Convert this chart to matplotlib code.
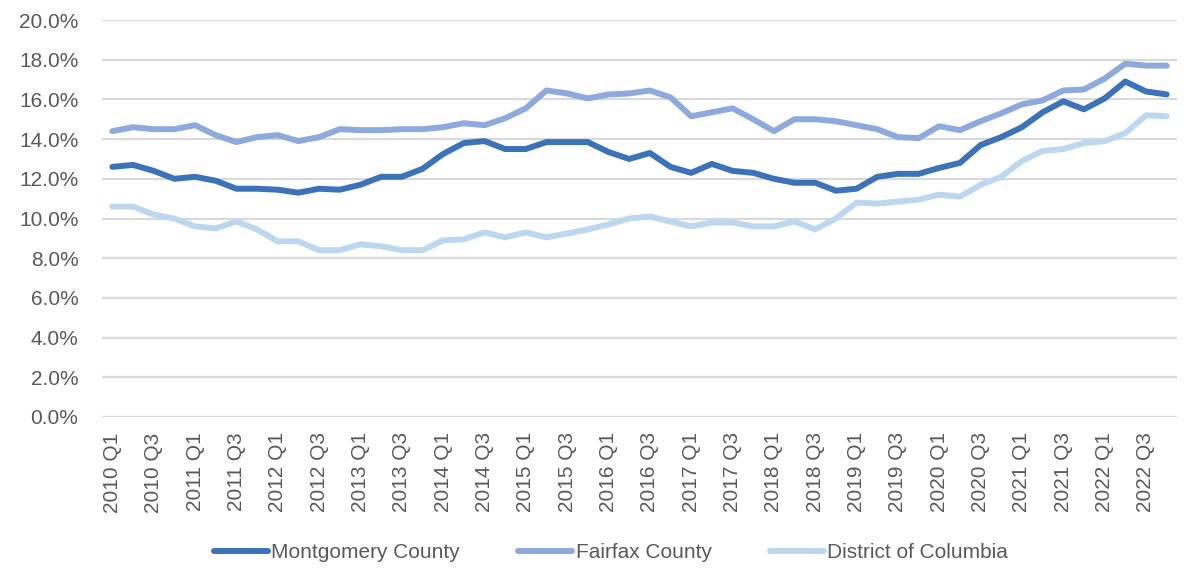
import matplotlib.pyplot as plt
from matplotlib.ticker import FuncFormatter

# quarters 2010 Q1 .. 2022 Q4
years = list(range(2010, 2023))
quarters = ["%d Q%d" % (y, q) for y in years for q in range(1, 5)]

# share in percent
montgomery = [12.6, 12.7, 12.4, 12.0, 12.1, 11.9, 11.5, 11.5, 11.45, 11.3,
              11.5, 11.45, 11.7, 12.1, 12.1, 12.5, 13.25, 13.8, 13.9, 13.5,
              13.5, 13.85, 13.85, 13.85, 13.35, 13.0, 13.3, 12.6, 12.3, 12.75,
              12.4, 12.3, 12.0, 11.8, 11.8, 11.4, 11.5, 12.1, 12.25, 12.25,
              12.55, 12.8, 13.7, 14.1, 14.6, 15.35, 15.9, 15.5, 16.05, 16.9,
              16.4, 16.25]
fairfax = [14.4, 14.6, 14.5, 14.5, 14.7, 14.2, 13.85, 14.1, 14.2, 13.9,
           14.1, 14.5, 14.45, 14.45, 14.5, 14.5, 14.6, 14.8, 14.7, 15.05,
           15.55, 16.45, 16.3, 16.05, 16.25, 16.3, 16.45, 16.1, 15.15, 15.35,
           15.55, 15.0, 14.4, 15.0, 15.0, 14.9, 14.7, 14.5, 14.1, 14.05,
           14.65, 14.45, 14.9, 15.3, 15.75, 15.95, 16.45, 16.5, 17.05, 17.8,
           17.7, 17.7]
dc = [10.6, 10.6, 10.2, 10.0, 9.6, 9.5, 9.85, 9.45, 8.85, 8.85,
      8.4, 8.4, 8.7, 8.6, 8.4, 8.4, 8.9, 8.95, 9.3, 9.05,
      9.3, 9.05, 9.25, 9.45, 9.7, 10.0, 10.1, 9.85, 9.6, 9.8,
      9.8, 9.6, 9.6, 9.85, 9.45, 10.0, 10.8, 10.75, 10.85, 10.95,
      11.2, 11.1, 11.7, 12.1, 12.9, 13.4, 13.5, 13.8, 13.9, 14.3,
      15.2, 15.15]

plt.rcParams['font.family'] = ['Liberation Sans', 'DejaVu Sans']

fig = plt.figure(figsize=(11.88, 5.69), dpi=100)
ax = fig.add_axes([102/1188, 1 - 417/569, 1075/1188, 397/569])

x = range(len(quarters))
ax.plot(x, montgomery, color='#3C72B8', lw=4.3, label='Montgomery County', solid_capstyle='round')
ax.plot(x, fairfax, color='#8EA9DB', lw=4.3, label='Fairfax County', solid_capstyle='round')
ax.plot(x, dc, color='#BDD7EE', lw=4.3, label='District of Columbia', solid_capstyle='round')

ax.set_xlim(-0.5, len(quarters) - 0.5)
ax.set_ylim(0, 20)
ax.set_yticks(range(0, 21, 2))
ax.yaxis.set_major_formatter(FuncFormatter(lambda v, p: "%.1f%%" % v))
ax.set_xticks(list(x)[::2])
ax.set_xticklabels(quarters[::2], rotation=90)

ax.grid(axis='y', color='#D9D9D9', lw=1.6)
ax.set_axisbelow(True)
for s in ax.spines.values():
    s.set_visible(False)
ax.tick_params(axis='y', length=0, pad=17, labelsize=15, labelcolor='#595959')
ax.tick_params(axis='x', length=0, pad=11, labelsize=15, labelcolor='#595959')

leg = fig.legend(loc='center', bbox_to_anchor=(611/1188, 1 - 553/569), ncol=3,
                 frameon=False, fontsize=15, handlelength=2.6, handletextpad=0.15,
                 columnspacing=2.8, labelcolor='#595959')
for h in leg.get_lines():
    h.set_linewidth(4.3)

fig.savefig('out.png', dpi=100)
